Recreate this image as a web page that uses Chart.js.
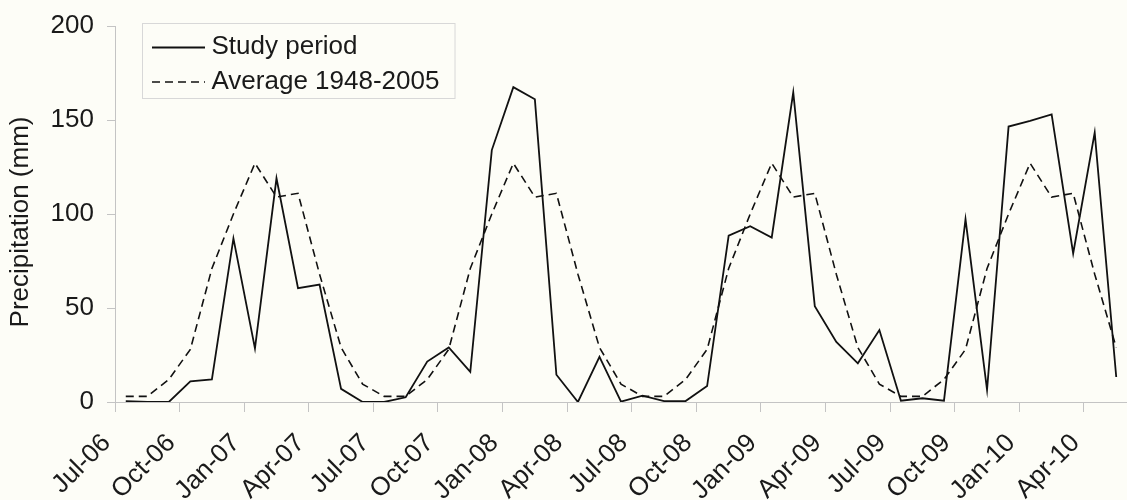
<!DOCTYPE html>
<html>
<head>
<meta charset="utf-8">
<script src="https://cdn.jsdelivr.net/npm/chart.js@4.4.1/dist/chart.umd.min.js"></script>
<style>
  html, body { margin: 0; padding: 0; background: #fdfdf7; }
  #wrap { width: 1127px; height: 500px; position: relative; }
</style>
</head>
<body>
<div id="wrap"><canvas id="c"></canvas></div>
<script>
// ---- data ----
const categories = [
  'Jul-06','Aug-06','Sep-06','Oct-06','Nov-06','Dec-06','Jan-07','Feb-07','Mar-07','Apr-07','May-07','Jun-07',
  'Jul-07','Aug-07','Sep-07','Oct-07','Nov-07','Dec-07','Jan-08','Feb-08','Mar-08','Apr-08','May-08','Jun-08',
  'Jul-08','Aug-08','Sep-08','Oct-08','Nov-08','Dec-08','Jan-09','Feb-09','Mar-09','Apr-09','May-09','Jun-09',
  'Jul-09','Aug-09','Sep-09','Oct-09','Nov-09','Dec-09','Jan-10','Feb-10','Mar-10','Apr-10','May-10'
];
const studyPeriod = [
  0.5, 0, 0, 11, 12, 87, 28.5, 119, 60.5, 62.5, 7, 0,
  0, 2.5, 21.5, 29, 16, 134, 167.5, 161, 14.5, 0, 24, 0.2,
  3.4, 0.5, 0.5, 8.5, 88.5, 93.5, 87.5, 164.7, 51, 32, 20.6, 38.3,
  0.7, 2, 0.7, 97.2, 6.5, 146.5, 149.5, 153, 79, 143.3, 13.3
];
const average1948_2005 = [
  3, 3, 12, 28, 71, 100, 127, 109, 111, 68, 29, 9.5,
  3, 3, 12, 28, 71, 100, 127, 109, 111, 68, 29, 9.5,
  3, 3, 12, 28, 71, 100, 127, 109, 111, 68, 29, 9.5,
  3, 3, 12, 28, 71, 100, 127, 109, 111, 68, 29
];
const seriesNames = ['Study period', 'Average 1948-2005'];
const yTickValues = [0, 50, 100, 150, 200];
const xLabelEvery = 3;
const yTitle = 'Precipitation (mm)';

// ---- styles ----
const FONT = '"Liberation Sans", Arial, Helvetica, sans-serif';
const BG = '#fdfdf7';
const INK = '#1a1a1a';
const AXIS = '#c4c4c4';

const decorations = {
  id: 'decorations',
  beforeDraw(chart) {
    const ctx = chart.ctx;
    ctx.save();
    ctx.fillStyle = BG;
    ctx.fillRect(0, 0, chart.width, chart.height);
    ctx.restore();
  },
  afterDraw(chart) {
    const ctx = chart.ctx;
    const ca = chart.chartArea;
    // y axis title
    ctx.save();
    ctx.fillStyle = INK;
    ctx.font = '26px ' + FONT;
    ctx.translate(27.5, (ca.top + ca.bottom) / 2 + 8);
    ctx.rotate(-Math.PI / 2);
    ctx.textAlign = 'center';
    ctx.textBaseline = 'alphabetic';
    ctx.fillText(yTitle, 0, 0);
    ctx.restore();

    // legend box
    const bx = ca.left + 27.5, by = ca.top - 2.5, bw = 312.5, bh = 75;
    ctx.save();
    ctx.fillStyle = BG;
    ctx.fillRect(bx, by, bw, bh);
    ctx.strokeStyle = '#d8d8d8';
    ctx.lineWidth = 1;
    ctx.strokeRect(bx, by, bw, bh);
    ctx.font = '26px ' + FONT;
    ctx.fillStyle = INK;
    ctx.textBaseline = 'alphabetic';
    ctx.textAlign = 'left';
    chart.data.datasets.forEach((ds, i) => {
      const ly = by + 24 + i * 34.5;
      ctx.beginPath();
      ctx.setLineDash(ds.borderDash || []);
      ctx.strokeStyle = ds.borderColor;
      ctx.lineWidth = ds.borderWidth;
      ctx.moveTo(bx + 9.5, ly);
      ctx.lineTo(bx + 62.5, ly);
      ctx.stroke();
      ctx.setLineDash([]);
      ctx.fillText(ds.label, bx + 69, ly + 6.5);
    });
    ctx.restore();
  }
};

new Chart(document.getElementById('c'), {
  type: 'line',
  data: {
    labels: categories,
    datasets: [
      {
        label: seriesNames[0],
        data: studyPeriod,
        borderColor: '#111111',
        borderWidth: 1.8,
        pointRadius: 0,
        tension: 0,
        fill: false
      },
      {
        label: seriesNames[1],
        data: average1948_2005,
        borderColor: '#111111',
        borderWidth: 1.6,
        borderDash: [8, 5],
        pointRadius: 0,
        tension: 0,
        fill: false
      }
    ]
  },
  options: {
    responsive: true,
    maintainAspectRatio: false,
    animation: false,
    events: [],
    layout: { padding: { top: 26, right: 0, left: 0, bottom: 0 } },
    plugins: {
      legend: { display: false },
      tooltip: { enabled: false },
      title: { display: false }
    },
    scales: {
      x: {
        type: 'category',
        offset: true,
        grid: {
          offset: true,
          drawOnChartArea: false,
          drawTicks: true,
          tickLength: 10,
          color: (ctx) => (ctx.index !== undefined && ctx.index % xLabelEvery === 0) ? AXIS : 'rgba(0,0,0,0)',
          lineWidth: 1
        },
        border: { display: true, color: AXIS, width: 1 },
        ticks: {
          autoSkip: false,
          maxRotation: 45,
          minRotation: 45,
          padding: 16,
          labelOffset: -19,
          color: INK,
          font: { family: FONT, size: 26 },
          callback: function (value, index) {
            return index % xLabelEvery === 0 ? categories[index] : '';
          }
        },
        afterFit(scale) {
          scale.height = 98;
          scale.paddingLeft = 0;
          scale.paddingRight = 0;
        }
      },
      y: {
        min: 0,
        max: 200,
        afterBuildTicks(scale) { scale.ticks = yTickValues.map(v => ({ value: v })); },
        grid: {
          drawOnChartArea: false,
          drawTicks: true,
          tickLength: 8,
          color: AXIS
        },
        border: { display: true, color: AXIS, width: 1 },
        ticks: {
          padding: 13,
          color: INK,
          font: { family: FONT, size: 26 }
        },
        afterFit(scale) {
          scale.width = 115;
          scale.paddingTop = 0;
          scale.paddingBottom = 0;
        }
      }
    }
  },
  plugins: [decorations]
});
</script>
</body>
</html>
